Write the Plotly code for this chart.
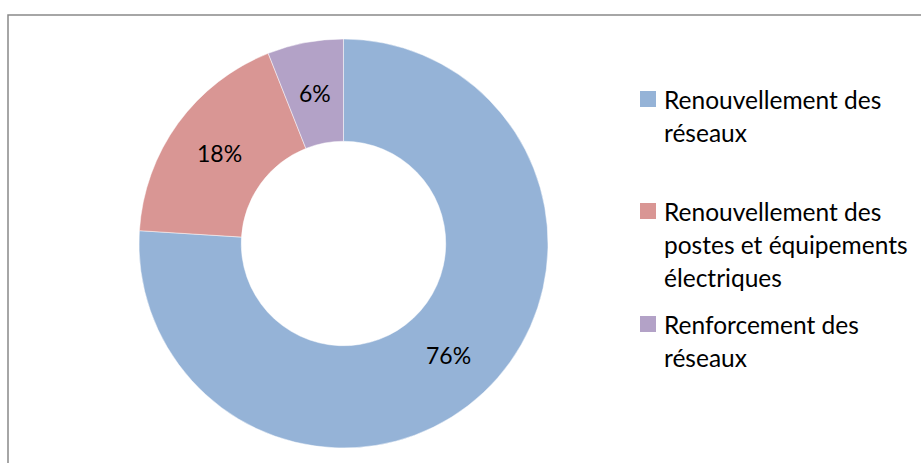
import math
import plotly.graph_objects as go

# ---- data ----
labels = ["Renouvellement des réseaux",
          "Renouvellement des postes et équipements électriques",
          "Renforcement des réseaux"]
legend_lines = [["Renouvellement des", "réseaux"],
                ["Renouvellement des", "postes et équipements", "électriques"],
                ["Renforcement des", "réseaux"]]
values = [76, 18, 6]
colors = ["#95B3D7", "#D99694", "#B3A2C7"]

W, H = 921, 463
FONT = "Lato"
FS = 24.5
HOLE = 0.5

def px(x):
    return x / W

def py(y):
    return 1 - y / H

cx, cy, r = 343.5, 243.5, 204.5

fig = go.Figure(go.Pie(
    labels=labels,
    values=values,
    hole=HOLE,
    sort=False,
    direction="clockwise",
    rotation=0,
    marker=dict(colors=colors, line=dict(color="rgba(255,255,255,0.6)", width=0.8)),
    textinfo="none",
    domain=dict(x=[px(cx - r), px(cx + r)], y=[py(cy + r), py(cy - r)]),
    showlegend=False,
    hoverinfo="label+percent",
))

annotations = []
# percentage labels at the middle of the ring, on each slice's bisector
total = sum(values)
cum = 0
rm = r * (1 + HOLE) / 2
for v in values:
    mid = (cum + v / 2) / total * 2 * math.pi
    cum += v
    lx = cx + rm * math.sin(mid)
    ly = cy - rm * math.cos(mid)
    annotations.append(dict(xref="paper", yref="paper", x=px(lx), y=py(ly),
                            xanchor="center", yanchor="middle",
                            text=f"{round(100 * v / total)}%", showarrow=False,
                            font=dict(family=FONT, size=23, color="#000000")))

shapes = [dict(type="rect", xref="paper", yref="paper",
               x0=px(8), x1=px(W + 20), y0=py(H + 20), y1=py(15),
               line=dict(color="#898989", width=1.5), fillcolor="rgba(0,0,0,0)")]
item_top = [99, 211, 324]   # swatch centres (px)
line_gap = 33.3
for i, lines in enumerate(legend_lines):
    yc = item_top[i]
    shapes.append(dict(type="rect", xref="paper", yref="paper",
                       x0=px(640), x1=px(656), y0=py(yc + 8), y1=py(yc - 8),
                       line=dict(width=0), fillcolor=colors[i]))
    for j, t in enumerate(lines):
        annotations.append(dict(xref="paper", yref="paper",
                                x=px(662), y=py(yc + j * line_gap),
                                xanchor="left", yanchor="middle",
                                text=t, showarrow=False,
                                font=dict(family=FONT, size=FS, color="#000000")))

fig.update_layout(
    width=W, height=H,
    margin=dict(l=0, r=0, t=0, b=0),
    paper_bgcolor="white",
    plot_bgcolor="white",
    shapes=shapes,
    annotations=annotations,
)

fig.write_html("out.html",
               config={"displayModeBar": False},
               post_script="document.body.style.margin='0';document.body.style.overflow='hidden';")
